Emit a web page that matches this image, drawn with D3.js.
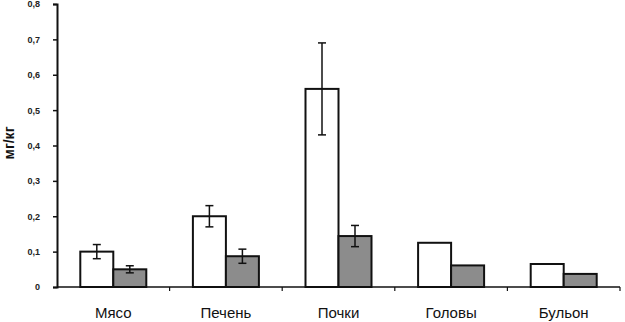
<!DOCTYPE html>
<html>
<head>
<meta charset="utf-8">
<script src="https://cdn.jsdelivr.net/npm/d3@7"></script>
<style>
  body { margin: 0; background: #fff; overflow: hidden; }
  svg { display: block; }
  text { font-family: "Liberation Sans", Arial, sans-serif; }
</style>
</head>
<body>
<div id="plot"></div>
<script>
// data
const categories = ["Мясо", "Печень", "Почки", "Головы", "Бульон"];
const whiteVals = [0.10, 0.20, 0.56, 0.125, 0.065];
const whiteErr = [0.02, 0.03, 0.13, 0, 0];
const greyVals = [0.05, 0.087, 0.144, 0.061, 0.037];
const greyErr = [0.01, 0.02, 0.03, 0, 0];
const yTicks = [0, 0.1, 0.2, 0.3, 0.4, 0.5, 0.6, 0.7, 0.8];

const w = 625;
const h = 322;
const margin = {top: 4, right: 5, bottom: 35, left: 57};
const innerWidth = w - margin.left - margin.right;
const innerHeight = h - margin.top - margin.bottom;

const svg = d3.select("div#plot")
  .append("svg")
    .attr("width", w)
    .attr("height", h);

svg.append("rect")
  .attr("width", w)
  .attr("height", h)
  .attr("fill", "#fff");

const g = svg.append("g")
  .attr("transform", `translate(${margin.left}, ${margin.top})`);

const xScale = d3.scaleBand()
  .domain(categories)
  .range([0, innerWidth])
  .paddingInner(0)
  .paddingOuter(0);

const yScale = d3.scaleLinear()
  .domain([0, 0.8])
  .range([innerHeight, 0]);

const barW = 33;

// bars
const series = [
  {vals: whiteVals, err: whiteErr, fill: "#fff", off: -barW},
  {vals: greyVals, err: greyErr, fill: "#8c8c8c", off: 0}
];

series.forEach(s => {
  const cx = c => xScale(c) + xScale.bandwidth() / 2 + s.off;
  g.selectAll(null)
    .data(categories)
    .enter()
    .append("rect")
      .attr("x", d => cx(d))
      .attr("y", (d, i) => yScale(s.vals[i]))
      .attr("width", barW)
      .attr("height", (d, i) => innerHeight - yScale(s.vals[i]))
      .attr("fill", s.fill)
      .attr("stroke", "#111")
      .attr("stroke-width", 2);

  // error bars
  const errs = categories.map((c, i) => ({c: c, v: s.vals[i], e: s.err[i]}))
    .filter(d => d.e > 0);
  const eg = g.selectAll(null)
    .data(errs)
    .enter()
    .append("g")
      .attr("stroke", "#111")
      .attr("stroke-width", 1.5);
  eg.append("line")
    .attr("x1", d => cx(d.c) + barW / 2)
    .attr("x2", d => cx(d.c) + barW / 2)
    .attr("y1", d => yScale(d.v + d.e))
    .attr("y2", d => yScale(d.v - d.e));
  eg.append("line")
    .attr("x1", d => cx(d.c) + barW / 2 - 4)
    .attr("x2", d => cx(d.c) + barW / 2 + 4)
    .attr("y1", d => yScale(d.v + d.e))
    .attr("y2", d => yScale(d.v + d.e));
  eg.append("line")
    .attr("x1", d => cx(d.c) + barW / 2 - 4)
    .attr("x2", d => cx(d.c) + barW / 2 + 4)
    .attr("y1", d => yScale(d.v - d.e))
    .attr("y2", d => yScale(d.v - d.e));
});

// y axis
const yAxis = d3.axisLeft(yScale)
  .tickValues(yTicks)
  .tickSize(4)
  .tickPadding(13)
  .tickFormat(d => d === 0 ? "0" : d3.format(".1f")(d).replace(".", ","));

const ya = g.append("g").call(yAxis);
ya.select(".domain").attr("stroke", "#111").attr("stroke-width", 2);
ya.selectAll(".tick line").attr("stroke", "#111").attr("stroke-width", 1.5);
ya.selectAll(".tick text")
  .attr("font-size", 9)
  .attr("font-weight", "bold")
  .attr("fill", "#222");

// x axis
const xa = g.append("g")
  .attr("transform", `translate(0, ${innerHeight})`);
xa.append("line")
  .attr("x1", 0)
  .attr("x2", innerWidth)
  .attr("stroke", "#111")
  .attr("stroke-width", 1.5);
xa.selectAll(null)
  .data(categories)
  .enter()
  .append("line")
    .attr("x1", d => xScale(d) + xScale.bandwidth())
    .attr("x2", d => xScale(d) + xScale.bandwidth())
    .attr("y1", 0)
    .attr("y2", 4)
    .attr("stroke", "#111")
    .attr("stroke-width", 1.2);
xa.selectAll(null)
  .data(categories)
  .enter()
  .append("text")
    .attr("x", d => xScale(d) + xScale.bandwidth() / 2)
    .attr("y", 31)
    .attr("text-anchor", "middle")
    .attr("font-size", 15)
    .attr("fill", "#111")
    .text(d => d);

// y label
svg.append("text")
  .attr("transform", "rotate(-90)")
  .attr("x", -143)
  .attr("y", 14)
  .attr("text-anchor", "middle")
  .attr("font-size", 14)
  .attr("font-weight", "bold")
  .attr("fill", "#111")
  .text("мг/кг");
</script>
</body>
</html>
